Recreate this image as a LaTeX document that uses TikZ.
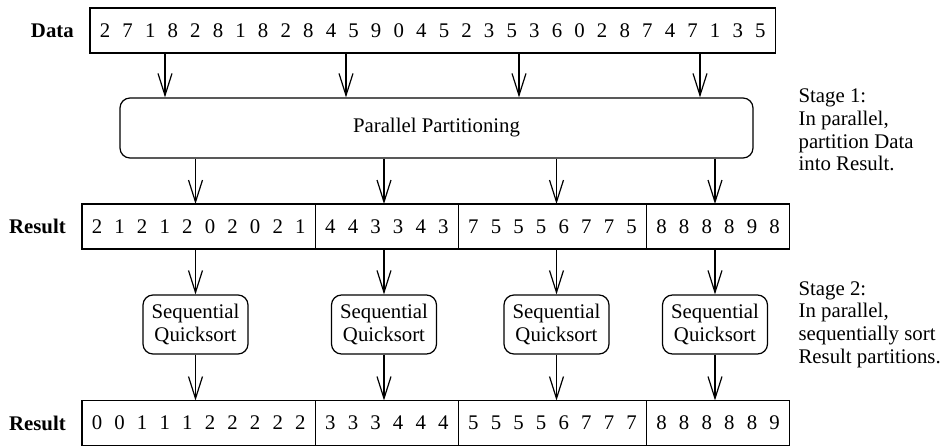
\documentclass[tikz,border=0pt]{standalone}
\usepackage{fontspec}
\setmainfont{Liberation Serif}
\usetikzlibrary{arrows.meta,positioning}

\newcommand\figfont{\fontsize{10.4pt}{11.35pt}\selectfont}
\newcommand\cells[2][11.3pt]{\foreach \d in {#2}{\makebox[#1]{\d}}}

\tikzset{
	arr/.style={-{Straight Barb[length=11pt,width=7pt]}},
	cellrow/.style={draw, outer sep=0pt, inner xsep=1.85pt, inner ysep=0pt, minimum height=22.5pt},
	rowlabel/.style={font=\figfont\bfseries},
	procbox/.style={draw, rounded corners=5pt, align=center},
	stagetext/.style={align=left, anchor=west, inner sep=0pt}
}

\begin{document}
\begin{tikzpicture}[x=0.5pt, y=-0.5pt, line width=0.6pt, font=\figfont]
		\useasboundingbox (0,0) rectangle (943,445);
		
		\node[cellrow, anchor=west] (data) at (90,30.5)
		{\cells{2,7,1,8,2,8,1,8,2,8,4,5,9,0,4,5,2,3,5,3,6,0,2,8,7,4,7,1,3,5}};
		\node[rowlabel, left=4.5pt of data] (datalab) {Data};
		
		\node[procbox, minimum width=316.5pt, minimum height=30pt] (part) at (436.5,128) {Parallel Partitioning};
		
		\node[cellrow, anchor=west] (r1a) at (82,226.5) {\cells{2,1,2,1,2,0,2,0,2,1}};
		\node[cellrow, right=0pt of r1a] (r1b) {\cells{4,4,3,3,4,3}};
		\node[cellrow, right=0pt of r1b] (r1c) {\cells{7,5,5,5,6,7,7,5}};
		\node[cellrow, right=0pt of r1c] (r1d) {\cells{8,8,8,8,9,8}};
		\node[rowlabel, left=4.5pt of r1a] (reslab1) {Result};
		
		\foreach \x [count=\i] in {195.5,384,556.5,715}
		\node[procbox, minimum width=52.5pt, minimum height=29.5pt] (qs\i) at (\x,324.5) {Sequential\\Quicksort};
		
		\node[cellrow, anchor=west] (r2a) at (82,423) {\cells{0,0,1,1,1,2,2,2,2,2}};
		\node[cellrow, right=0pt of r2a] (r2b) {\cells{3,3,3,4,4,4}};
		\node[cellrow, right=0pt of r2b] (r2c) {\cells{5,5,5,5,6,7,7,7}};
		\node[cellrow, right=0pt of r2c] (r2d) {\cells{8,8,8,8,8,9}};
		\node[rowlabel, left=4.5pt of r2a] (reslab2) {Result};
		
		% arrows
		\foreach \x [count=\i] in {165,346,519,700} {
			\coordinate (t\i) at (\x,0);
			\draw[arr] (data.south -| t\i) -- (part.north -| t\i);
		}
		\foreach \i/\p in {1/a,2/b,3/c,4/d} {
			\draw[arr] (part.south -| qs\i) -- (r1\p.north -| qs\i);
			\draw[arr] (r1\p.south -| qs\i) -- (qs\i.north);
			\draw[arr] (qs\i.south) -- (r2\p.north -| qs\i);
		}
		
		\node[stagetext] (stage1) at (798,130) {Stage 1:\\In parallel,\\partition Data\\into Result.};
		\node[stagetext] (stage2) at (798,324.5) {Stage 2:\\In parallel,\\sequentially sort\\Result partitions.};
		
\end{tikzpicture}
\end{document}
